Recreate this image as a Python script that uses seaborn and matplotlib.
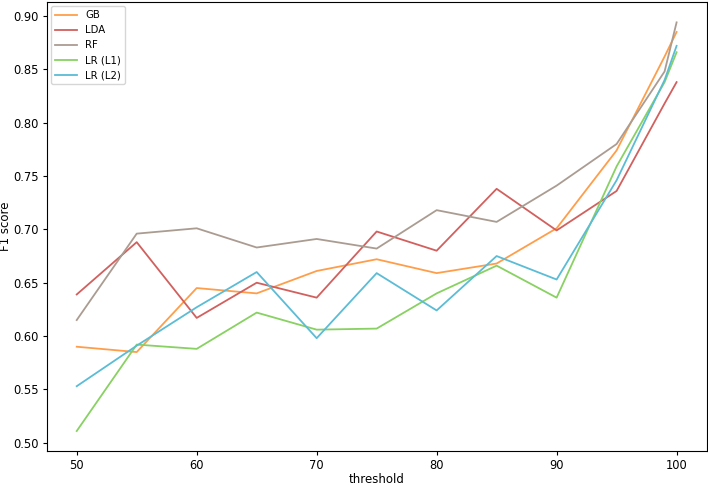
# F1 score of each classifier against the threshold

import pandas as pd
import seaborn as sns
import matplotlib
matplotlib.use("Agg")
import matplotlib.pyplot as plt

# thresholds on the x axis
thresholds = [50, 55, 60, 65, 70, 75, 80, 85, 90, 95, 99, 100]

# F1 scores
gb = [0.590, 0.585, 0.645, 0.640, 0.661, 0.672, 0.659, 0.668, 0.701, 0.774, 0.862, 0.885]
lda = [0.639, 0.688, 0.617, 0.650, 0.636, 0.698, 0.680, 0.738, 0.699, 0.736, 0.818, 0.838]
rf = [0.615, 0.696, 0.701, 0.683, 0.691, 0.682, 0.718, 0.707, 0.741, 0.780, 0.848, 0.894]
lr_l1 = [0.511, 0.592, 0.588, 0.622, 0.606, 0.607, 0.640, 0.666, 0.636, 0.759, 0.838, 0.866]
lr_l2 = [0.553, 0.591, 0.627, 0.660, 0.598, 0.659, 0.624, 0.675, 0.653, 0.746, 0.840, 0.872]

models = ["GB", "LDA", "RF", "LR (L1)", "LR (L2)"]
scores = [gb, lda, rf, lr_l1, lr_l2]
colors = ["#ff9e4a", "#d1605e", "#ab9c92", "#88d162", "#5bbcd6"]

# long format table for seaborn
rows = []
for name, vals in zip(models, scores):
    for t, v in zip(thresholds, vals):
        rows.append({"threshold": t, "F1 score": v, "model": name})
df = pd.DataFrame(rows)

fig = plt.figure(figsize=(7.08, 4.87), dpi=100)
ax = fig.add_axes([0.066, 0.073, 0.932, 0.923])

sns.lineplot(data=df, x="threshold", y="F1 score", hue="model",
             palette=dict(zip(models, colors)), linewidth=1.3, ax=ax)

ax.set_xticks([50, 60, 70, 80, 90, 100])
ax.set_yticks([0.50, 0.55, 0.60, 0.65, 0.70, 0.75, 0.80, 0.85, 0.90])
ax.set_yticklabels(["0.50", "0.55", "0.60", "0.65", "0.70", "0.75", "0.80", "0.85", "0.90"])
ax.tick_params(labelsize=8.3, length=3, pad=2.5)
ax.set_xlabel("threshold", fontsize=8.5, labelpad=1)
ax.set_ylabel("F1 score", fontsize=8.5, labelpad=1)
ax.legend(title=None, loc="upper left", fontsize=7.3, handlelength=2.2,
          borderaxespad=0.4, labelspacing=0.5)

fig.savefig("out.png", dpi=100)
